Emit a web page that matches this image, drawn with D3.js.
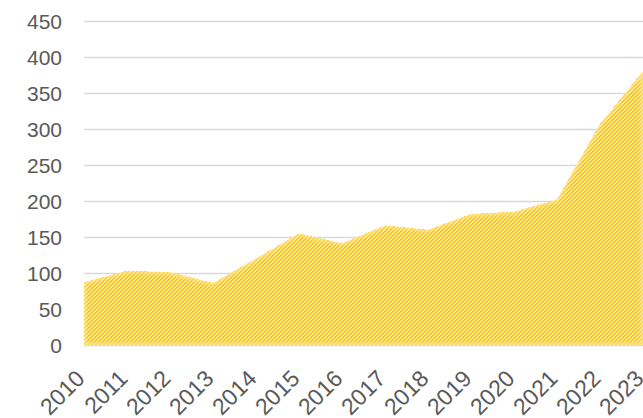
<!DOCTYPE html>
<html>
<head>
<meta charset="utf-8">
<script src="https://cdn.jsdelivr.net/npm/d3@7"></script>
<style>
  body { margin: 0; background: #fff; }
  text { font-family: "Liberation Sans", Arial, sans-serif; fill: #595959; }
</style>
</head>
<body>
<svg id="chart" width="643" height="418"></svg>
<script>
const years = ["2010", "2011", "2012", "2013", "2014", "2015", "2016",
               "2017", "2018", "2019", "2020", "2021", "2022", "2023"];
const values = [87, 103, 101, 86, 120, 155, 141, 166, 160, 182, 185, 202, 307, 380];
const yTicks = [0, 50, 100, 150, 200, 250, 300, 350, 400, 450];

const svg = d3.select("#chart");
const plotLeft = 84, plotRight = 643, plotTop = 21, plotBottom = 345;

const x = d3.scalePoint().domain(years).range([plotLeft, plotRight]);
const y = d3.scaleLinear().domain([0, 450]).range([plotBottom, plotTop]);

// hatch pattern, like Excel's dark upward diagonal
const defs = svg.append("defs");
const pat = defs.append("pattern")
  .attr("id", "hatch")
  .attr("patternUnits", "userSpaceOnUse")
  .attr("width", 4).attr("height", 4);
pat.append("rect").attr("width", 4).attr("height", 4).attr("fill", "#FFEDB8");
for (let i = 0; i < 4; i++) {
  pat.append("rect")
    .attr("x", i).attr("y", 3 - i)
    .attr("width", 1).attr("height", 1)
    .attr("fill", "#FFC000");
  pat.append("rect")
    .attr("x", (i + 1) % 4).attr("y", 3 - i)
    .attr("width", 1).attr("height", 1)
    .attr("fill", "#FFC000");
}

const blur = defs.append("filter").attr("id", "soft")
  .attr("x", "-5%").attr("y", "-5%").attr("width", "110%").attr("height", "110%");
blur.append("feGaussianBlur").attr("stdDeviation", 1.6);

// gridlines
svg.append("g")
  .attr("transform", `translate(${plotLeft},0)`)
  .call(d3.axisLeft(y).tickValues(yTicks).tickSize(-(plotRight - plotLeft)).tickFormat(""))
  .call(g => g.select(".domain").remove())
  .call(g => g.selectAll("line").attr("stroke", "#D9D9D9").attr("stroke-width", 1.5));

// y labels
svg.append("g")
  .selectAll("text")
  .data(yTicks)
  .join("text")
  .attr("x", 62)
  .attr("y", d => y(d))
  .attr("dy", "0.36em")
  .attr("text-anchor", "end")
  .attr("font-size", 21)
  .text(d => d);

const area = d3.area()
  .x((d, i) => x(years[i]))
  .y0(y(0))
  .y1(d => y(d));

defs.append("clipPath").attr("id", "areaClip")
  .append("path").attr("d", area(values));

svg.append("path")
  .attr("d", area(values))
  .attr("fill", "url(#hatch)")
  .attr("shape-rendering", "crispEdges");

// soft edge
svg.append("g")
  .attr("clip-path", "url(#areaClip)")
  .append("path")
  .attr("d", area(values))
  .attr("fill", "none")
  .attr("stroke", "#FFE38A")
  .attr("stroke-opacity", 0.8)
  .attr("stroke-width", 5)
  .attr("filter", "url(#soft)");

// x labels
svg.append("g")
  .selectAll("text")
  .data(years)
  .join("text")
  .attr("text-anchor", "end")
  .attr("font-size", 23)
  .attr("transform", d => `translate(${x(d) + 2},380) rotate(-45)`)
  .text(d => d);
</script>
</body>
</html>
